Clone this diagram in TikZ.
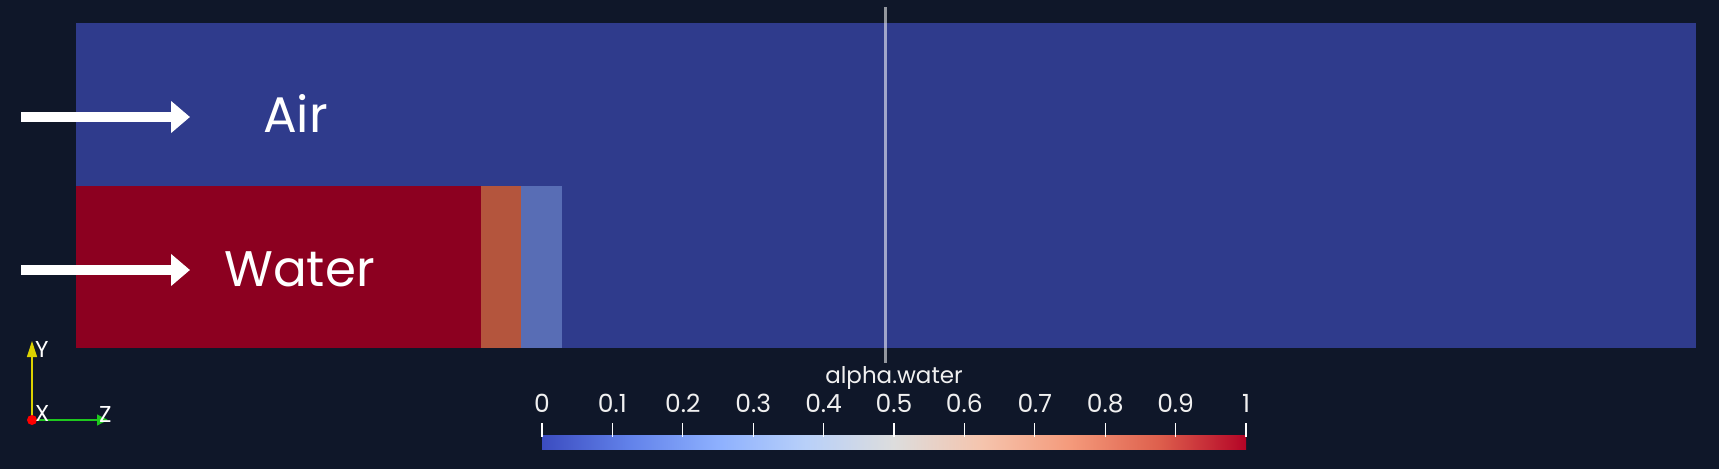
\documentclass[tikz,border=0pt]{standalone}
\usepackage{fontspec}
\setmainfont{Poppins}
\usetikzlibrary{arrows.meta}
\definecolor{bg}{RGB}{15,23,41}
\definecolor{airc}{RGB}{47,59,140}
\definecolor{waterc}{RGB}{140,0,32}
\definecolor{midc}{RGB}{180,85,61}
\definecolor{lowc}{RGB}{88,109,181}
\definecolor{cw0}{RGB}{59,76,192}
\definecolor{cw1}{RGB}{98,130,234}
\definecolor{cw2}{RGB}{141,176,254}
\definecolor{cw3}{RGB}{184,208,249}
\definecolor{cw4}{RGB}{221,221,221}
\definecolor{cw5}{RGB}{245,196,173}
\definecolor{cw6}{RGB}{244,154,123}
\definecolor{cw7}{RGB}{222,96,77}
\definecolor{cw8}{RGB}{180,4,38}
\definecolor{triy}{RGB}{220,210,0}
\definecolor{triz}{RGB}{30,200,30}
\pgfdeclarehorizontalshading{coolwarm}{100bp}{
  color(0bp)=(cw0); color(25bp)=(cw0); color(31.25bp)=(cw1); color(37.5bp)=(cw2); color(43.75bp)=(cw3);
  color(50bp)=(cw4); color(56.25bp)=(cw5); color(62.5bp)=(cw6); color(68.75bp)=(cw7);
  color(75bp)=(cw8); color(100bp)=(cw8)}
\tikzset{
  flowarrow/.style={draw=white, line width=10pt, -{Triangle[length=19pt,width=31pt]}},
  biglabel/.style={text=white, font=\fontsize{50}{50}\selectfont, inner sep=0pt, anchor=base west},
  ticklabel/.style={text=white!88!gray, font=\fontsize{25}{25}\selectfont, inner sep=0pt, anchor=base},
  tickline/.style={draw=white, line width=1.3pt},
  trilabel/.style={text=white, font=\fontsize{23}{23}\selectfont, inner sep=0pt, anchor=base west},
}
\begin{document}
\begin{tikzpicture}[x=1pt,y=-1pt]
\fill[bg] (0,0) rectangle (1719,469);
\useasboundingbox (0,0) rectangle (1719,469);
% domain
\fill[airc] (76,23) rectangle (1696,348);
\fill[waterc] (76,186) rectangle (481,348);
\fill[midc] (481,186) rectangle (521,348);
\fill[lowc] (521,186) rectangle (562,348);
% probe line
\coordinate (ltop) at (885.5,7);
\coordinate (lbot) at (885.5,363);
\draw[white, opacity=0.55, line width=3pt] (ltop) -- (lbot);
% arrows and labels
\coordinate (a1s) at (21,117);
\coordinate (a1e) at (190,117);
\coordinate (a2s) at (21,270);
\coordinate (a2e) at (190,270);
\draw[flowarrow] (a1s) -- (a1e);
\draw[flowarrow] (a2s) -- (a2e);
\node[biglabel] (air) at (263,132.7) {Air};
\node[biglabel] (water) at (224,286.7) {Water};
% colorbar
\node[text=white!88!gray, font=\fontsize{23}{23}\selectfont, inner sep=0pt, anchor=base] (cbt) at (894,383) {alpha.water};
\shade[shading=coolwarm] (542,435) rectangle (1246,449);
\foreach \i/\lab in {0/0,1/0.1,2/0.2,3/0.3,4/0.4,5/0.5,6/0.6,7/0.7,8/0.8,9/0.9,10/1}{
  \coordinate (t\i) at ({542+70.4*\i},423);
  \coordinate (b\i) at ({542+70.4*\i},437);
  \draw[tickline] (t\i) -- (b\i);
  \node[ticklabel] (l\i) at ({542+70.4*\i},412.3) {\lab};
}
% triad
\coordinate (o) at (32,420);
\coordinate (yt) at (32,341);
\coordinate (zt) at (108,420);
\draw[triy, line width=1.2pt, -{Triangle[length=16pt,width=10pt]}] (o) -- (yt);
\draw[triz, line width=1.2pt, -{Triangle[length=11pt,width=11pt]}] (o) -- (zt);
\fill[red] (o) circle (5);
\node[trilabel] (ly) at (35,357) {Y};
\node[trilabel] (lx) at (35,421) {X};
\node[trilabel] (lz) at (99,422) {Z};
\end{tikzpicture}
\end{document}
